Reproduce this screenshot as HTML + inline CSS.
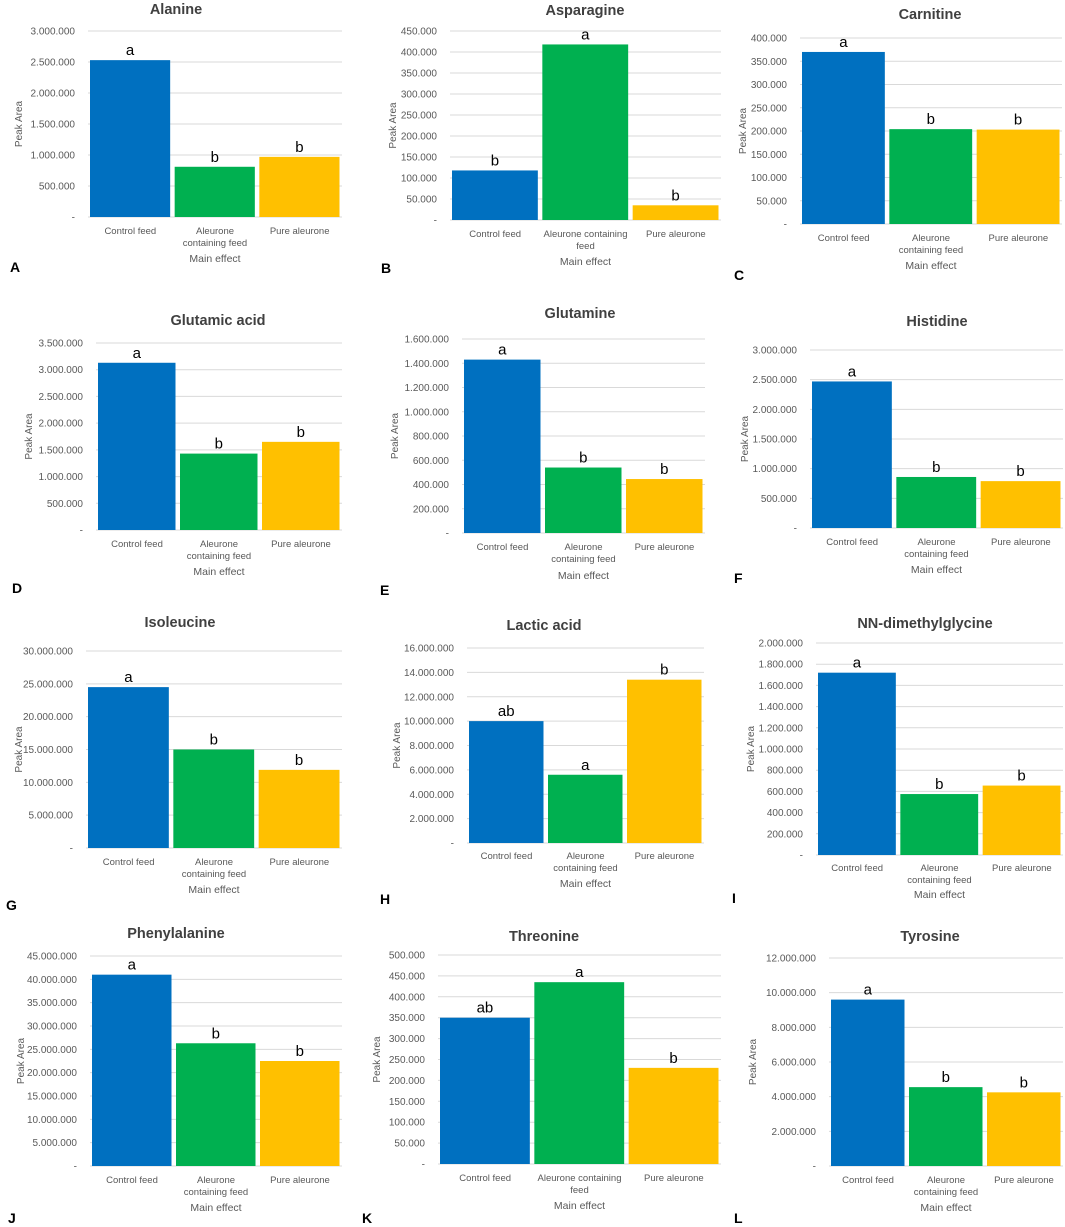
<!DOCTYPE html>
<html><head><meta charset="utf-8">
<style>
html,body{margin:0;padding:0;background:#fff;}
svg{display:block;font-family:"Liberation Sans",Arial,sans-serif;}
</style></head>
<body>
<svg id="fig" width="1065" height="1227" viewBox="0 0 1065 1227" xmlns="http://www.w3.org/2000/svg"></svg>
<script>
const titles = ["Alanine","Asparagine","Carnitine","Glutamic acid","Glutamine","Histidine","Isoleucine","Lactic acid","NN-dimethylglycine","Phenylalanine","Threonine","Tyrosine"];
const panelLetters = ["A","B","C","D","E","F","G","H","I","J","K","L"];
const categories = ["Control feed","Aleurone containing feed","Pure aleurone"];
const controlValues = [2530000,118000,370000,3130000,1430000,2470000,24500000,10000000,1720000,41000000,350000,9600000];
const aleuroneFeedValues = [810000,418000,204000,1430000,540000,860000,15000000,5600000,575000,26300000,435000,4550000];
const pureAleuroneValues = [970000,35000,203000,1650000,445000,790000,11900000,13400000,655000,22500000,230000,4250000];
const axisMax = [3000000,450000,400000,3500000,1600000,3000000,30000000,16000000,2000000,45000000,500000,12000000];
const axisStep = [500000,50000,50000,500000,200000,500000,5000000,2000000,200000,5000000,50000,2000000];
const sigLetters = [["a","b","b"],["b","a","b"],["a","b","b"],["a","b","b"],["a","b","b"],["a","b","b"],["a","b","b"],["ab","a","b"],["a","b","b"],["a","b","b"],["ab","a","b"],["a","b","b"]];

// layout (pixel geometry, not data)
const L = [
 {x0:88,x1:342,yt:31,yb:217,tx:176,ty:14,yl:18,cy:231,my:259,lx:10,ly:272,wide:false},
 {x0:450,x1:721,yt:31,yb:220,tx:585,ty:15,yl:392,cy:234,my:262,lx:381,ly:273,wide:true},
 {x0:800,x1:1062,yt:38,yb:224,tx:930,ty:19,yl:742,cy:238,my:266,lx:734,ly:280,wide:false},
 {x0:96,x1:342,yt:343,yb:530,tx:218,ty:325,yl:28,cy:544,my:572,lx:12,ly:593,wide:false},
 {x0:462,x1:705,yt:339,yb:533,tx:580,ty:318,yl:394,cy:547,my:576,lx:380,ly:595,wide:false},
 {x0:810,x1:1063,yt:350,yb:528,tx:937,ty:326,yl:744,cy:542,my:570,lx:734,ly:583,wide:false},
 {x0:86,x1:342,yt:651,yb:848,tx:180,ty:627,yl:18,cy:862,my:890,lx:6,ly:910,wide:false},
 {x0:467,x1:704,yt:648,yb:843,tx:544,ty:630,yl:396,cy:856,my:884,lx:380,ly:904,wide:false},
 {x0:816,x1:1063,yt:643,yb:855,tx:925,ty:628,yl:750,cy:868,my:895,lx:732,ly:903,wide:false},
 {x0:90,x1:342,yt:956,yb:1166,tx:176,ty:938,yl:20,cy:1180,my:1208,lx:8,ly:1223,wide:false},
 {x0:438,x1:721,yt:955,yb:1164,tx:544,ty:941,yl:376,cy:1178,my:1206,lx:362,ly:1223,wide:true},
 {x0:829,x1:1063,yt:958,yb:1166,tx:930,ty:941,yl:752,cy:1180,my:1208,lx:734,ly:1223,wide:false}
];
const colors = ["#0070c0","#00b050","#ffc000"];
const NS = "http://www.w3.org/2000/svg";
const svg = document.getElementById("fig");
function mk(tag, attrs, parent, text){
  const e = document.createElementNS(NS, tag);
  for (const k in attrs) e.setAttribute(k, attrs[k]);
  if (text !== undefined) e.textContent = text;
  parent.appendChild(e);
  return e;
}
function fmt(v){ if (v===0) return "-"; return String(v).replace(/\B(?=(\d{3})+(?!\d))/g,"."); }

for (let p=0;p<12;p++){
  const g = L[p];
  const grp = mk("g",{},svg);
  
  
  const yScale = v => g.yb - (v/axisMax[p])*(g.yb-g.yt);
  for (let v=0; v<=axisMax[p]+1; v+=axisStep[p]){
    const y = yScale(v);
    if (v>0){
      const gl = mk("line",{x1:g.x0,x2:g.x1,y1:y,y2:y,stroke:"#d9d9d9","stroke-width":1},grp);
      
      
    }
    const t = mk("text",{x:g.x0-13,y:y+3.5,"text-anchor":"end","font-size":10,fill:"#595959"},grp,fmt(v));
    
    
  }
  const base = mk("line",{x1:g.x0,x2:g.x1,y1:g.yb,y2:g.yb,stroke:"#d9d9d9","stroke-width":1},grp);
  
  
  const ti = mk("text",{x:g.tx,y:g.ty,"text-anchor":"middle","font-size":14.5,"font-weight":"bold",fill:"#404040"},grp,titles[p]);
  
  
  const yt = mk("text",{x:0,y:0,transform:`translate(${g.yl+4},${(g.yt+g.yb)/2}) rotate(-90)`,"text-anchor":"middle","font-size":10,fill:"#595959"},grp,"Peak Area");
  
  
  const vals = [controlValues[p],aleuroneFeedValues[p],pureAleuroneValues[p]];
  const cw = (g.x1-g.x0)/3;
  for (let i=0;i<3;i++){
    const bx = g.x0 + i*cw + 2, bw = cw-4.5;
    const y = yScale(vals[i]);
    const r = mk("rect",{x:bx,y:y,width:bw,height:g.yb-y,fill:colors[i]},grp);
    
    
    const s = mk("text",{x:bx+bw/2,y:y-5,"text-anchor":"middle","font-size":15,fill:"#000"},grp,sigLetters[p][i]);
    
    
    const cx = g.x0 + (i+0.5)*cw;
    let lines;
    if (i===1) lines = g.wide ? ["Aleurone containing","feed"] : ["Aleurone","containing feed"];
    else lines = [categories[i]];
    lines.forEach((ln,k)=>{
      const c = mk("text",{x:cx,y:g.cy+3+k*12,"text-anchor":"middle","font-size":9.5,fill:"#595959"},grp,ln);
      
      
    });
  }
  const xt = mk("text",{x:(g.x0+g.x1)/2,y:g.my+3,"text-anchor":"middle","font-size":10.5,fill:"#595959"},grp,"Main effect");
  
  
  const pl = mk("text",{x:g.lx,y:g.ly,"font-size":14,"font-weight":"bold",fill:"#000"},grp,panelLetters[p]);
  
  
}
</script>
</body></html>
